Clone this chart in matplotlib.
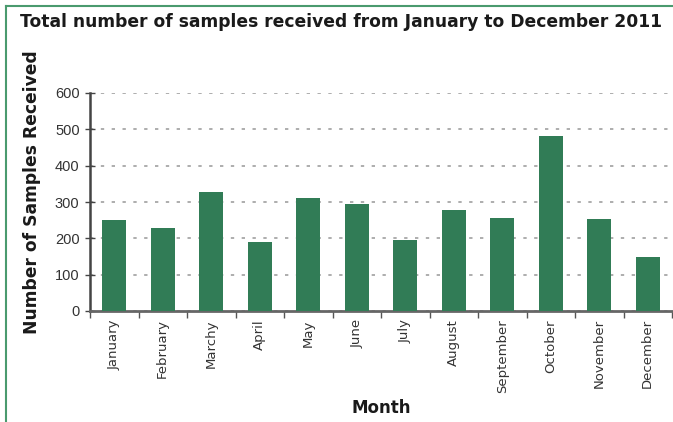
import matplotlib
matplotlib.use("Agg")
import matplotlib.pyplot as plt
from matplotlib.lines import Line2D
import numpy as np

months = ['January', 'February', 'Marchy', 'April', 'May', 'June', 'July',
          'August', 'September', 'October', 'November', 'December']
samples = [250, 228, 327, 190, 311, 295, 195, 278, 256, 482, 253, 149]
yticks = [0, 100, 200, 300, 400, 500, 600]

bar_color = '#317c56'
frame_color = '#4a9a6e'

fig = plt.figure(figsize=(6.73, 4.22), dpi=100)
ax = fig.add_axes([90 / 673, (422 - 311) / 422, 582 / 673, 218 / 422])

x = np.arange(len(months))
ax.bar(x, samples, width=0.5, color=bar_color, zorder=3)

ax.set_xlim(-0.5, len(months) - 0.5)
ax.set_ylim(0, 600)
ax.set_yticks(yticks)
ax.set_yticklabels([str(v) for v in yticks], fontsize=10.5, color='#333333',
                   family='Liberation Sans')

# ticks at category boundaries, labels at centers
ax.set_xticks(np.arange(len(months) + 1) - 0.5)
ax.set_xticklabels([])
ax.set_xticks(x, minor=True)
ax.set_xticklabels(months, minor=True, rotation=90, fontsize=9.5,
                   color='#333333', family='DejaVu Sans')
ax.tick_params(axis='x', which='minor', length=0, pad=6)
ax.tick_params(axis='x', which='major', length=5, width=1, color='#555555',
               direction='out')
ax.tick_params(axis='y', length=7, width=1, color='#444444', direction='inout',
               pad=4)

ax.yaxis.grid(True, color='#a0a0a0', linestyle=(0, (2, 4.5)), linewidth=1.2,
              zorder=0)
for s in ['top', 'right']:
    ax.spines[s].set_visible(False)
ax.spines['left'].set_color('#444444')
ax.spines['left'].set_linewidth(1.8)
ax.spines['bottom'].set_color('#666666')
ax.spines['bottom'].set_linewidth(2)

fig.text(341 / 673, (422 - 22) / 422,
         'Total number of samples received from January to December 2011',
         ha='center', va='center', fontsize=12.3, fontweight='heavy', color='#1a1a1a')
fig.text(32 / 673, (422 - 192) / 422, 'Number of Samples Received', rotation=90,
         ha='center', va='center', fontsize=12.3, fontweight='heavy', color='#1a1a1a')
fig.text(381 / 673, (422 - 408) / 422, 'Month', ha='center', va='center',
         fontsize=12, fontweight='heavy', color='#1a1a1a')

# green frame at left and top
fig.add_artist(Line2D([5.5 / 673, 5.5 / 673], [0, 1 - 5.5 / 422],
                      transform=fig.transFigure, color=frame_color, linewidth=1.5))
fig.add_artist(Line2D([5.5 / 673, 1], [1 - 5.5 / 422, 1 - 5.5 / 422],
                      transform=fig.transFigure, color=frame_color, linewidth=1.5))

fig.savefig('out.png', dpi=100)
